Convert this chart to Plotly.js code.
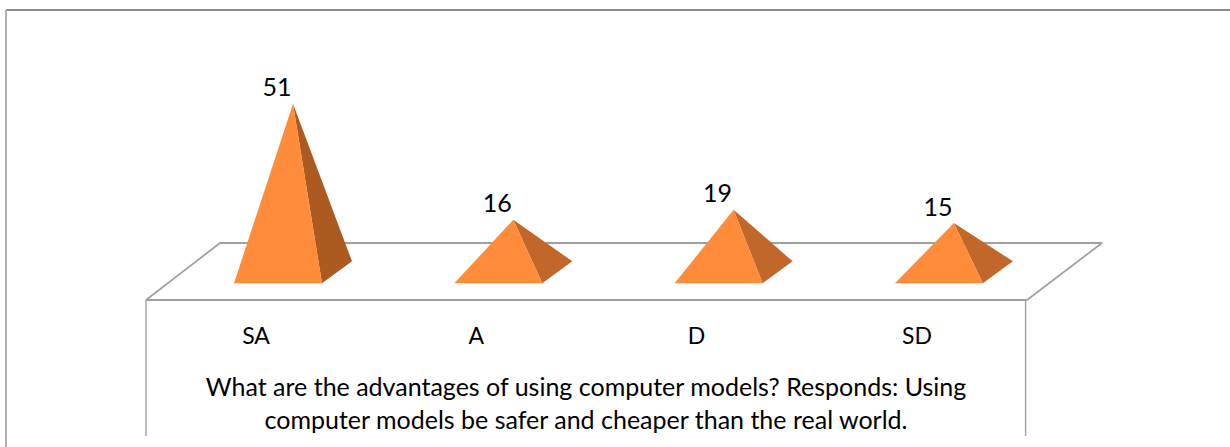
<!DOCTYPE html>
<html>
<head>
<meta charset="utf-8">
<script src="https://cdn.plot.ly/plotly-3.0.1.min.js"></script>
<style>html,body{margin:0;padding:0;background:#fff}#chart{width:1230px;height:447px}</style>
</head>
<body>
<div id="chart"></div>
<script>
const categories = ['SA', 'A', 'D', 'SD'];
const values = [51, 16, 19, 15];
const sideColors = ['#AD5A22', '#C1672A', '#C1672A', '#C1672A'];
const chartTitle = 'What are the advantages of using computer models? Responds: Using<br>computer models be safer and cheaper than the real world.';

const W = 1230, H = 447;
// value axis: 0 sits at pixel 272.8, 3.314 px per unit
const yPerPx = 1 / 3.314, yZeroPx = 272.8;
// category axis: first centre at pixel 293, 220.3 px apart
const xPerPx = 1 / 220.3, xZeroPx = 293;
const xr = [(0 - xZeroPx) * xPerPx, (W - xZeroPx) * xPerPx];
const yr = [(yZeroPx - H) * yPerPx, yZeroPx * yPerPx];

// footprint of a pyramid in axis units, relative to its centre and the value-zero plane
const dx = px => px * xPerPx, dy = px => px * yPerPx;
const baseFL = [dx(-59), dy(-10.5)], baseFR = [dx(29), dy(-10.5)], baseBR = [dx(59), dy(11.5)];

const traces = [];
values.forEach((v, i) => {
  const apex = [i, v];
  const pt = p => [i + p[0], p[1]];
  const side = [apex, pt(baseFR), pt(baseBR), apex];
  const front = [apex, pt(baseFL), pt(baseFR), apex];
  traces.push({type:'scatter', mode:'lines', x:side.map(p=>p[0]), y:side.map(p=>p[1]), fill:'toself',
    fillcolor:sideColors[i], line:{width:0, color:sideColors[i]}, hoverinfo:'skip', showlegend:false});
  traces.push({type:'scatter', mode:'lines', x:front.map(p=>p[0]), y:front.map(p=>p[1]), fill:'toself',
    fillcolor:'#FF8C3A', line:{width:0, color:'#FF8C3A'}, hoverinfo:'skip', showlegend:false});
});
traces.push({type:'scatter', mode:'text', x:values.map((v,i)=>i+dx(-16)), y:values.map(v=>v+dy(1.3)),
  text:values.map(String), textposition:'top center', cliponaxis:false,
  textfont:{family:'Lato, Carlito, sans-serif', size:25, color:'#000'}, showlegend:false});

const seg = (a,b,c,w) => ({type:'line', xref:'paper', yref:'paper', layer:'below',
  x0:a[0]/W, y0:1-a[1]/H, x1:b[0]/W, y1:1-b[1]/H, line:{color:c, width:w}});
const grey = '#A0A0A0';
const shapes = [
  seg([6,10],[1230,10],'#8C8C8C',2),
  seg([6,10],[6,447],'#B0B0B0',2),
  seg([146,300],[1027,300],grey,2),
  seg([146,300],[220,243],grey,1.7),
  seg([220,243],[1102,243],grey,2),
  seg([1102,243],[1027,300],grey,1.7),
  seg([146,300],[146,436],grey,1.4),
  seg([1025.6,300],[1025.6,436],grey,1.4)
];

const layout = {
  width:W, height:H, margin:{l:0,r:0,t:0,b:0}, paper_bgcolor:'#fff', plot_bgcolor:'#fff',
  showlegend:false, shapes:shapes,
  font:{family:'Lato, Carlito, sans-serif', color:'#000'},
  title:{text:chartTitle, x:586/W, xanchor:'center', xref:'paper', y:1-396/H, yref:'paper', yanchor:'top',
    font:{family:'Lato, Carlito, sans-serif', size:25, color:'#000'}},
  xaxis:{range:xr, showgrid:false, zeroline:false, showline:false, anchor:'free', position:1-320/H,
    tickmode:'array', tickvals:categories.map((c,i)=>i+dx(-37)), ticktext:categories,
    ticks:'', tickfont:{family:'Lato, Carlito, sans-serif', size:23, color:'#000'}},
  yaxis:{range:yr, showgrid:false, zeroline:false, showline:false, showticklabels:false, ticks:''}
};
Plotly.newPlot('chart', traces, layout, {displayModeBar:false, staticPlot:true});
</script>
</body>
</html>
